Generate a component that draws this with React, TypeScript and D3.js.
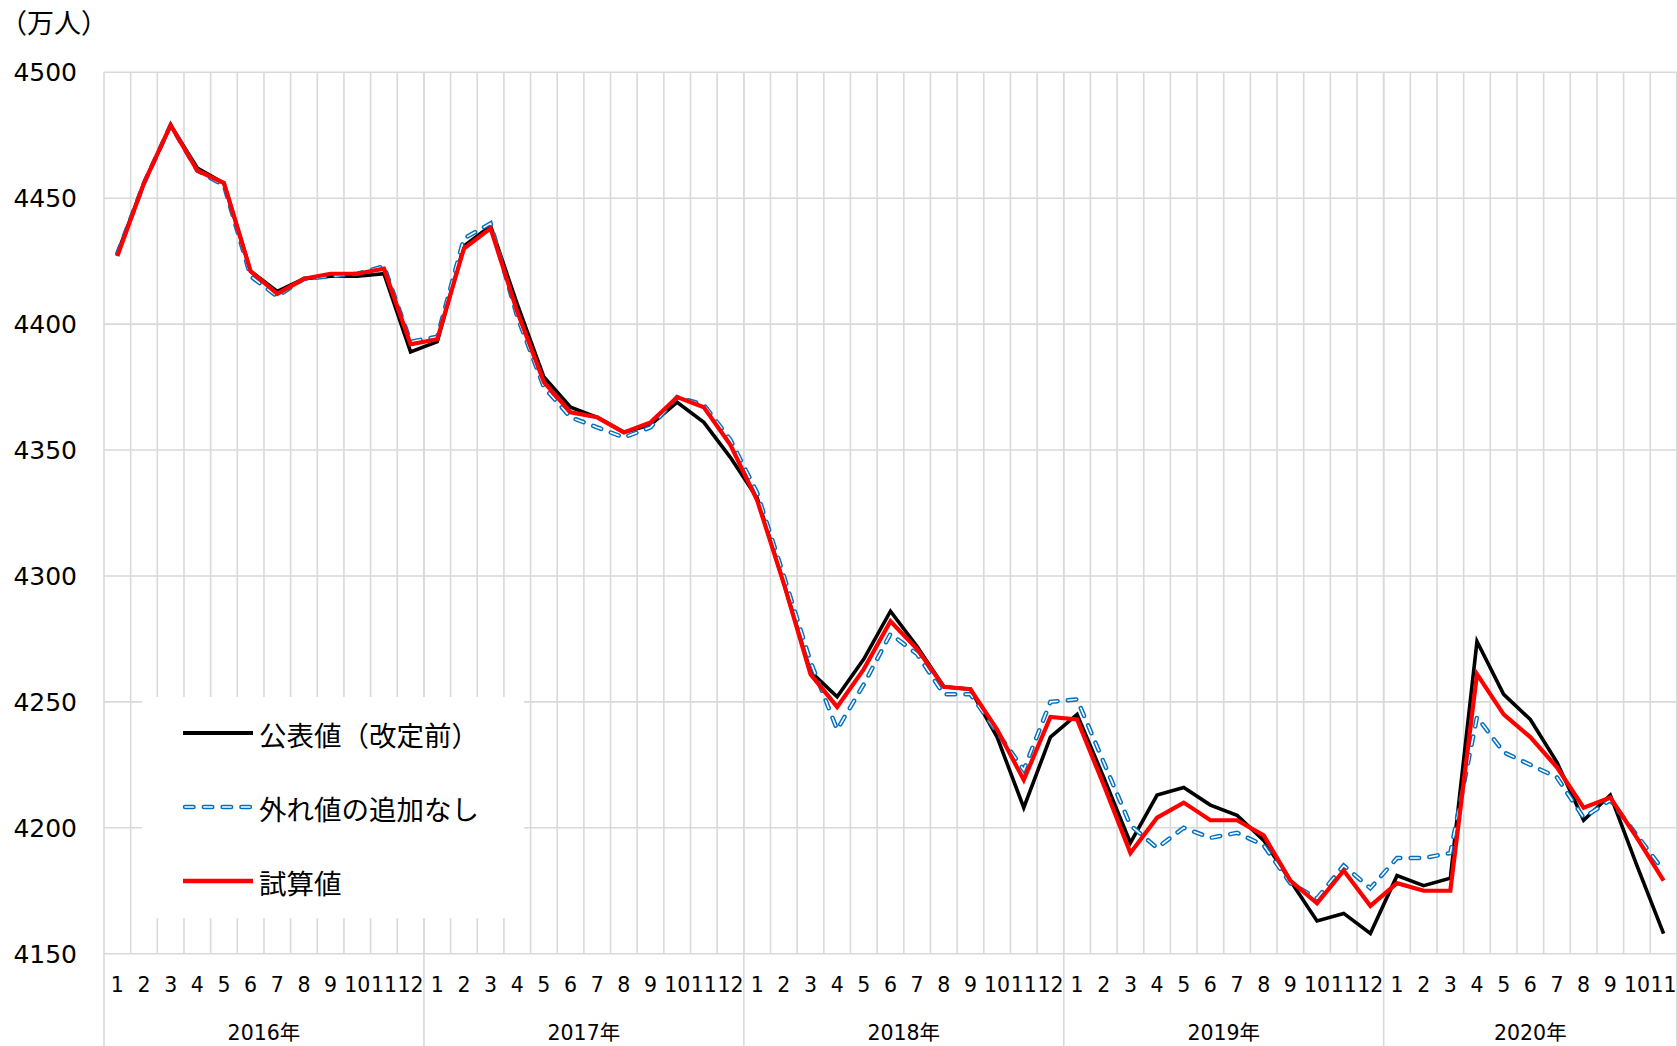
import React from "react";
import * as d3 from "d3";

// Monthly series, Jan 2016 – Nov 2020 (万人)
const years = ["2016年", "2017年", "2018年", "2019年", "2020年"];
const monthsPerYear = [12, 12, 12, 12, 11];

const published = [
  4428, 4456, 4479, 4462, 4456, 4421, 4413, 4418, 4419, 4419, 4420, 4389,
  4393, 4431, 4439, 4408, 4379, 4367, 4363, 4357, 4360, 4369, 4361, 4347,
  4331, 4297, 4262, 4252, 4267, 4286, 4272, 4256, 4255, 4236, 4208, 4236,
  4245, 4220, 4194, 4213, 4216, 4209, 4205, 4195, 4179, 4163, 4166, 4158,
  4181, 4177, 4180, 4274, 4253, 4243, 4226, 4203, 4213, 4185, 4158,
];

const noOutliers = [
  4428, 4456, 4479, 4461, 4455, 4419, 4411, 4418, 4419, 4420, 4423, 4393,
  4395, 4434, 4440, 4403, 4375, 4363, 4359, 4355, 4359, 4371, 4368, 4354,
  4333, 4300, 4266, 4239, 4257, 4277, 4269, 4253, 4253, 4238, 4223, 4250,
  4251, 4226, 4201, 4192, 4200, 4196, 4198, 4193, 4178, 4172, 4185, 4176,
  4188, 4188, 4190, 4244, 4230, 4225, 4220, 4204, 4211, 4197, 4183,
];

const trial = [
  4427, 4456, 4479, 4461, 4456, 4421, 4412, 4418, 4420, 4420, 4422, 4392,
  4394, 4430, 4438, 4405, 4377, 4365, 4363, 4357, 4361, 4371, 4367, 4352,
  4330, 4297, 4261, 4248, 4263, 4282, 4271, 4256, 4255, 4239, 4219, 4244,
  4243, 4217, 4190, 4204, 4210, 4203, 4203, 4197, 4179, 4170, 4183, 4169,
  4178, 4175, 4175, 4261, 4245, 4236, 4224, 4208, 4212, 4196, 4179,
];

const yTicks = [4150, 4200, 4250, 4300, 4350, 4400, 4450, 4500];
const unitLabel = "（万人）";
const legendNames = ["公表値（改定前）", "外れ値の追加なし", "試算値"];

const W = 1677;
const H = 1046;
const plotLeft = 104;
const step = 26.66;
const plotTop = 72.3;
const plotBottom = 953.7;

const NUM_FONT = "'DejaVu Sans', 'Noto Sans CJK JP', sans-serif";
const JP_FONT = "'Noto Sans CJK JP', sans-serif";
const GRID = "#d9d9d9";
const BLUE = "#0070c0";

type Pt = { i: number; v: number };

export default function App() {
  const labels: { month: number; year: number; idx: number }[] = [];
  monthsPerYear.forEach((n, yi) => {
    for (let m = 1; m <= n; m++) labels.push({ month: m, year: yi, idx: labels.length });
  });
  const n = labels.length;

  const x = d3
    .scaleBand<number>()
    .domain(d3.range(n))
    .range([plotLeft, plotLeft + n * step])
    .padding(0);
  const y = d3.scaleLinear().domain([4150, 4500]).range([plotBottom, plotTop]);

  const line = d3
    .line<Pt>()
    .x((d) => (x(d.i) as number) + x.bandwidth() / 2)
    .y((d) => y(d.v));

  const toPts = (arr: number[]) => arr.map((v, i) => ({ i, v }));

  // year boundaries (category indices where a year starts)
  const yearStarts: number[] = [];
  let acc = 0;
  monthsPerYear.forEach((m) => {
    yearStarts.push(acc);
    acc += m;
  });
  yearStarts.push(acc);

  const dashOuter = "8.5 10.3";

  return (
    <svg
      width={W}
      height={H}
      style={{ position: "absolute", left: 0, top: 0, display: "block", background: "#fff" }}
    >
      <rect x={0} y={0} width={W} height={H} fill="#fff" />

      {/* horizontal gridlines */}
      {yTicks.map((t) => (
        <line
          key={"h" + t}
          x1={plotLeft}
          x2={plotLeft + n * step}
          y1={y(t)}
          y2={y(t)}
          stroke={GRID}
          strokeWidth={1.6}
        />
      ))}

      {/* vertical month gridlines */}
      {d3.range(1, n + 1).map((k) => (
        <line
          key={"v" + k}
          x1={plotLeft + k * step}
          x2={plotLeft + k * step}
          y1={plotTop}
          y2={plotBottom}
          stroke={GRID}
          strokeWidth={1.6}
        />
      ))}

      {/* year separators extending through the axis labels */}
      {yearStarts.map((k) => (
        <line
          key={"ys" + k}
          x1={plotLeft + k * step}
          x2={plotLeft + k * step}
          y1={plotTop}
          y2={H}
          stroke={GRID}
          strokeWidth={1.6}
        />
      ))}

      {/* y axis labels */}
      {yTicks.map((t) => (
        <text
          key={"yl" + t}
          x={77}
          y={y(t) + 9}
          textAnchor="end"
          fontFamily={NUM_FONT}
          fontSize={25}
          fill="#000"
        >
          {t}
        </text>
      ))}

      <text x={0} y={33} fontFamily={JP_FONT} fontSize={27} fill="#000">
        {unitLabel}
      </text>

      {/* month labels */}
      {labels.map((l) => (
        <text
          key={"m" + l.idx}
          x={(x(l.idx) as number) + x.bandwidth() / 2}
          y={991.5}
          textAnchor="middle"
          fontFamily={NUM_FONT}
          fontSize={20.5}
          fill="#000"
        >
          {l.month}
        </text>
      ))}

      {/* year labels */}
      {years.map((yr, yi) => (
        <text
          key={"yr" + yr}
          x={plotLeft + ((yearStarts[yi] + yearStarts[yi + 1]) / 2) * step}
          y={1040}
          textAnchor="middle"
          fontFamily={NUM_FONT}
          fontSize={20.5}
          fill="#000"
        >
          {yr}
        </text>
      ))}

      {/* legend */}
      <rect x={142} y={697} width={382} height={221} fill="#fff" />
      <line x1={183} x2={253} y1={733} y2={733} stroke="#000" strokeWidth={4} />
      <line
        x1={185}
        x2={253}
        y1={807}
        y2={807}
        stroke={BLUE}
        strokeWidth={4.5}
        strokeDasharray={dashOuter}
        strokeLinecap="round"
      />
      <line
        x1={185}
        x2={253}
        y1={807}
        y2={807}
        stroke="#fff"
        strokeWidth={1.6}
        strokeDasharray={dashOuter}
        strokeLinecap="round"
      />
      <line x1={183} x2={253} y1={881} y2={881} stroke="#ff0000" strokeWidth={4.5} />
      {legendNames.map((nm, i) => (
        <text
          key={"lg" + i}
          x={259}
          y={734 + i * 74}
          dominantBaseline="central"
          fontFamily={JP_FONT}
          fontSize={27.5}
          fill="#000"
        >
          {nm}
        </text>
      ))}

      {/* series */}
      <path d={line(toPts(published)) || ""} fill="none" stroke="#000" strokeWidth={3.6} />
      <path
        d={line(toPts(noOutliers)) || ""}
        fill="none"
        stroke={BLUE}
        strokeWidth={4.5}
        strokeDasharray={dashOuter}
        strokeLinecap="round"
      />
      <path
        d={line(toPts(noOutliers)) || ""}
        fill="none"
        stroke="#fff"
        strokeWidth={1.6}
        strokeDasharray={dashOuter}
        strokeLinecap="round"
      />
      <path d={line(toPts(trial)) || ""} fill="none" stroke="#ff0000" strokeWidth={4.2} />
    </svg>
  );
}
